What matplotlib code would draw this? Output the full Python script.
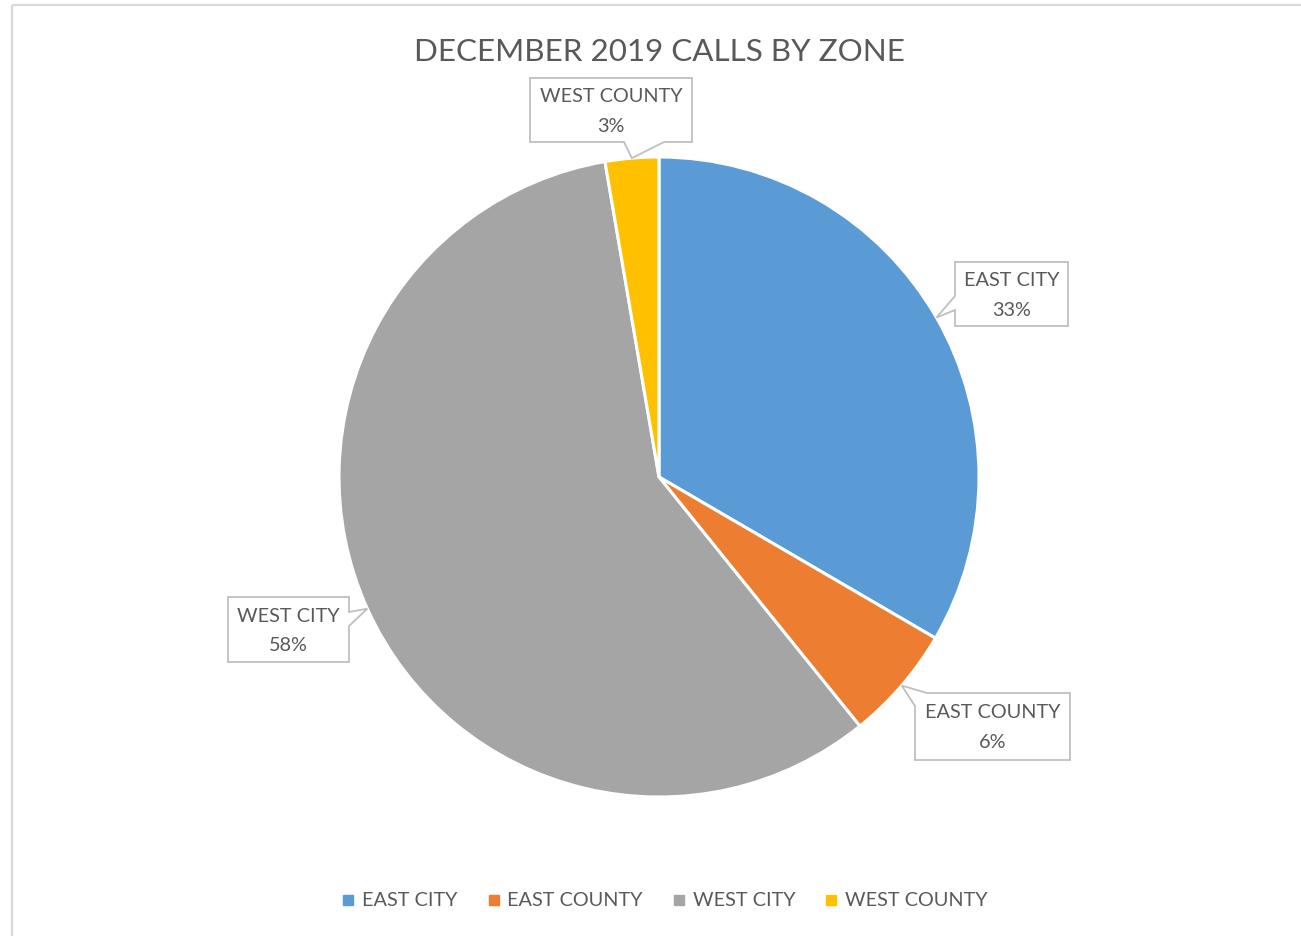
import numpy as np
import matplotlib.pyplot as plt
from matplotlib.patches import Polygon, Rectangle
from matplotlib.lines import Line2D

# data
zones = ['EAST CITY', 'EAST COUNTY', 'WEST CITY', 'WEST COUNTY']
share = [33.4, 5.8, 58.1, 2.7]
colors = ['#5B9BD5', '#ED7D31', '#A5A5A5', '#FFC000']
title = 'DECEMBER 2019 CALLS BY ZONE'

W, H = 1301, 936
cx, cy, r = 659, 477, 320
txt = '#595959'
plt.rcParams['font.family'] = ['Lato', 'DejaVu Sans']

fig = plt.figure(figsize=(W / 100, H / 100), dpi=100)

ax = fig.add_axes([(cx - r) / W, (H - cy - r) / H, 2 * r / W, 2 * r / H])
wedges, _ = ax.pie(share, colors=colors, startangle=90, counterclock=False,
                   wedgeprops=dict(edgecolor='white', linewidth=2.2))
ax.set_xlim(-1, 1)
ax.set_ylim(-1, 1)

# overlay in pixel coordinates
ov = fig.add_axes([0, 0, 1, 1], facecolor='none')
ov.set_xlim(0, W)
ov.set_ylim(H, 0)
ov.axis('off')

ov.add_patch(Rectangle((12, 5), W + 20, H + 20, fill=False,
                       edgecolor='#D9D9D9', linewidth=1.6))
ov.text(cx, 52, title, ha='center', va='center', fontsize=22.6, color=txt)

# callout boxes: (x0, y0, x1, y1), side of tail, tail base a, b
boxes = {
    'EAST CITY': ((955, 262, 1068, 326), 'left', 296, 310),
    'EAST COUNTY': ((915, 693, 1070, 760), 'corner', 13, 12),
    'WEST CITY': ((228, 597, 349, 662), 'right', 612, 626),
    'WEST COUNTY': ((530, 78, 692, 142), 'bottom', 624, 664),
}


def callout(rect, side, a, b, tip):
    x0, y0, x1, y1 = rect
    if side == 'bottom':
        pts = [(x0, y0), (x1, y0), (x1, y1), (b, y1), tip, (a, y1), (x0, y1)]
    elif side == 'left':
        pts = [(x0, y0), (x1, y0), (x1, y1), (x0, y1), (x0, b), tip, (x0, a)]
    elif side == 'right':
        pts = [(x0, y0), (x1, y0), (x1, a), tip, (x1, b), (x1, y1), (x0, y1)]
    else:
        pts = [(x0, y0 + a), tip, (x0 + b, y0), (x1, y0), (x1, y1), (x0, y1)]
    return Polygon(pts, closed=True, facecolor='white', edgecolor='#BFBFBF',
                   linewidth=1.3, joinstyle='miter')


total = sum(share)
for w, name, v in zip(wedges, zones, share):
    mid = np.deg2rad((w.theta1 + w.theta2) / 2)
    tip = (cx + r * np.cos(mid), cy - r * np.sin(mid))
    rect, side, a, b = boxes[name]
    ov.add_patch(callout(rect, side, a, b, tip))
    mx = (rect[0] + rect[2]) / 2
    my = (rect[1] + rect[3]) / 2
    ov.text(mx, my - 13.5, name, ha='center', va='center', fontsize=14.3, color=txt)
    ov.text(mx, my + 16, f'{v / total * 100:.0f}%', ha='center', va='center',
            fontsize=14.3, color=txt)

handles = [Line2D([], [], marker='s', linestyle='none', markersize=7,
                  markerfacecolor=c, markeredgecolor=c) for c in colors]
fig.legend(handles, zones, loc='center', bbox_to_anchor=(665 / W, 1 - 901 / H),
           ncol=4, frameon=False, fontsize=14.3, labelcolor=txt,
           handlelength=0.6, handletextpad=0.4, columnspacing=1.5)

fig.savefig('out.png', dpi=100)
